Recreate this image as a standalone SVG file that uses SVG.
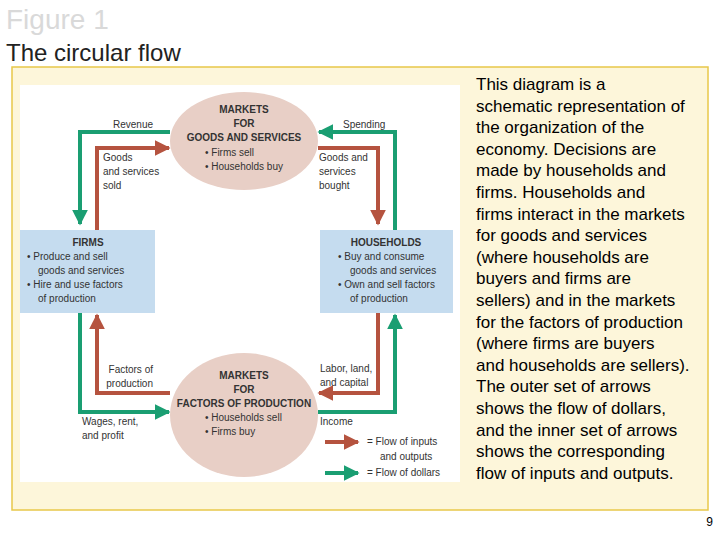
<svg xmlns="http://www.w3.org/2000/svg" width="720" height="540" viewBox="0 0 720 540">
<style>
.t{font-family:"Liberation Sans",Arial,sans-serif}
.s{font-family:"Liberation Sans",Arial,sans-serif;font-size:10px;fill:#333}
.b{font-family:"Liberation Sans",Arial,sans-serif;font-size:10px;font-weight:bold;fill:#333;text-anchor:middle}
.r{fill:none;stroke:#b5533f;stroke-width:4}
.g{fill:none;stroke:#1a9e72;stroke-width:4}
.p{font-family:"Liberation Sans",Arial,sans-serif;font-size:17px;fill:#000}
</style>
<defs>
<marker id="ar" viewBox="0 0 10 10" refX="9" refY="5" markerWidth="4" markerHeight="4" orient="auto" markerUnits="strokeWidth"><path d="M0,0L10,5L0,10z" fill="#b5533f"/></marker>
<marker id="ag" viewBox="0 0 10 10" refX="9" refY="5" markerWidth="4" markerHeight="4" orient="auto" markerUnits="strokeWidth"><path d="M0,0L10,5L0,10z" fill="#1a9e72"/></marker>
</defs>
<rect width="720" height="540" fill="#fff"/>
<text x="6" y="29" class="t" font-size="28" fill="#d9d9d9">Figure 1</text>
<text x="6" y="61" class="t" font-size="24" fill="#222">The circular flow</text>
<rect x="12" y="67" width="696" height="443" fill="#fdf6da" stroke="#e8c84a" stroke-width="1.5"/>
<rect x="20" y="85" width="440" height="397" fill="#fff"/>
<g id="connectors">
<path class="g" d="M170,132H80V224" marker-end="url(#ag)"/>
<path class="r" d="M97,230V148H169" marker-end="url(#ar)"/>
<path class="r" d="M318,148H378V224" marker-end="url(#ar)"/>
<path class="g" d="M395,230V132H319" marker-end="url(#ag)"/>
<path class="r" d="M170,393H97V315" marker-end="url(#ar)"/>
<path class="g" d="M80,313V412H169" marker-end="url(#ag)"/>
<path class="r" d="M378,313V393H319" marker-end="url(#ar)"/>
<path class="g" d="M318,412H395V315" marker-end="url(#ag)"/>
<path class="r" d="M325,442H358" marker-end="url(#ar)"/>
<path class="g" d="M325,473H358" marker-end="url(#ag)"/>
</g>
<g id="goods-market">
<ellipse cx="244" cy="141" rx="74" ry="49" fill="#e8cfc6"/>
<text x="244" y="113" class="b">MARKETS</text>
<text x="244" y="127" class="b">FOR</text>
<text x="244" y="141" class="b">GOODS AND SERVICES</text>
<text x="205" y="156" class="s">•  Firms sell</text>
<text x="205" y="170" class="s">•  Households buy</text>
</g>
<g id="factor-market">
<ellipse cx="244" cy="415" rx="74" ry="62" fill="#e8cfc6"/>
<text x="244" y="379" class="b">MARKETS</text>
<text x="244" y="393" class="b">FOR</text>
<text x="244" y="407" class="b">FACTORS OF PRODUCTION</text>
<text x="205" y="421" class="s">•  Households sell</text>
<text x="205" y="435" class="s">•  Firms buy</text>
</g>
<g id="firms">
<rect x="20" y="230" width="135" height="83" fill="#c5dcef"/>
<text x="88" y="246" class="b">FIRMS</text>
<text x="27" y="260" class="s">•  Produce and sell</text>
<text x="38" y="274" class="s">goods and services</text>
<text x="27" y="288" class="s">•  Hire and use factors</text>
<text x="38" y="302" class="s">of production</text>
</g>
<g id="households">
<rect x="320" y="230" width="133" height="83" fill="#c5dcef"/>
<text x="386" y="246" class="b">HOUSEHOLDS</text>
<text x="338" y="260" class="s">•  Buy and consume</text>
<text x="350" y="274" class="s">goods and services</text>
<text x="338" y="288" class="s">•  Own and sell factors</text>
<text x="350" y="302" class="s">of production</text>
</g>
<g id="labels">
<text x="113" y="128" class="s">Revenue</text>
<text x="343" y="128" class="s">Spending</text>
<text x="103" y="161" class="s">Goods</text>
<text x="103" y="175" class="s">and services</text>
<text x="103" y="189" class="s">sold</text>
<text x="319" y="161" class="s">Goods and</text>
<text x="319" y="175" class="s">services</text>
<text x="319" y="189" class="s">bought</text>
<text x="153" y="373" class="s" text-anchor="end">Factors of</text>
<text x="153" y="387" class="s" text-anchor="end">production</text>
<text x="320" y="372" class="s">Labor, land,</text>
<text x="320" y="386" class="s">and capital</text>
<text x="82" y="425" class="s">Wages, rent,</text>
<text x="82" y="439" class="s">and profit</text>
<text x="320" y="425" class="s">Income</text>
<text x="367" y="445" class="s">=  Flow of inputs</text>
<text x="380" y="460" class="s">and outputs</text>
<text x="367" y="476" class="s">=  Flow of dollars</text>
</g>
<g id="caption">
<text x="476" y="90" class="p">This diagram is a</text>
<text x="476" y="111.6" class="p">schematic representation of</text>
<text x="476" y="133.2" class="p">the organization of the</text>
<text x="476" y="154.8" class="p">economy. Decisions are</text>
<text x="476" y="176.4" class="p">made by households and</text>
<text x="476" y="198" class="p">firms. Households and</text>
<text x="476" y="219.6" class="p">firms interact in the markets</text>
<text x="476" y="241.2" class="p">for goods and services</text>
<text x="476" y="262.8" class="p">(where households are</text>
<text x="476" y="284.4" class="p">buyers and firms are</text>
<text x="476" y="306" class="p">sellers) and in the markets</text>
<text x="476" y="327.6" class="p">for the factors of production</text>
<text x="476" y="349.2" class="p">(where firms are buyers</text>
<text x="476" y="370.8" class="p">and households are sellers).</text>
<text x="476" y="392.4" class="p">The outer set of  arrows</text>
<text x="476" y="414" class="p">shows the flow of dollars,</text>
<text x="476" y="435.6" class="p">and the inner set of arrows</text>
<text x="476" y="457.2" class="p">shows the corresponding</text>
<text x="476" y="478.8" class="p">flow of inputs and outputs.</text>
</g>
<text x="713" y="526" class="t" font-size="12" text-anchor="end">9</text>
</svg>
